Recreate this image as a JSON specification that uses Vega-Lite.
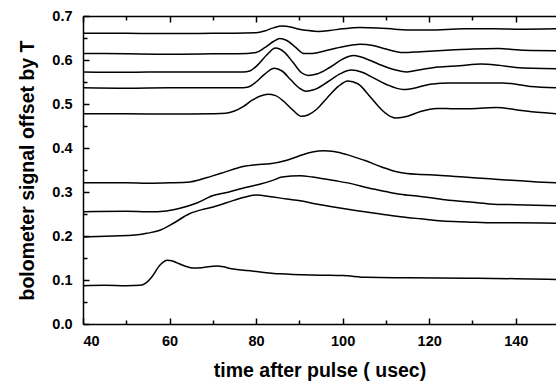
{
  "$schema": "https://vega.github.io/schema/vega-lite/v6.json",
  "width": 473,
  "height": 308,
  "autosize": {"type": "none"},
  "padding": {"left": 83, "top": 16, "right": 0, "bottom": 59},
  "view": {"stroke": null},
  "data": {"values": [
    {"s":"A","t":40,"v":0.661},{"s":"A","t":50,"v":0.661},{"s":"A","t":60,"v":0.660},{"s":"A","t":70,"v":0.661},{"s":"A","t":75,"v":0.661},{"s":"A","t":80,"v":0.662},{"s":"A","t":82,"v":0.666},{"s":"A","t":84,"v":0.673},{"s":"A","t":86,"v":0.677},{"s":"A","t":88,"v":0.675},{"s":"A","t":90,"v":0.670},{"s":"A","t":92,"v":0.667},{"s":"A","t":94.5,"v":0.665},{"s":"A","t":97,"v":0.667},{"s":"A","t":100,"v":0.671},{"s":"A","t":104,"v":0.674},{"s":"A","t":108,"v":0.673},{"s":"A","t":112,"v":0.670},{"s":"A","t":116,"v":0.668},{"s":"A","t":120,"v":0.668},{"s":"A","t":128,"v":0.671},{"s":"A","t":135,"v":0.671},{"s":"A","t":140,"v":0.670},{"s":"A","t":149.3,"v":0.671},
    {"s":"B","t":40,"v":0.615},{"s":"B","t":50,"v":0.614},{"s":"B","t":60,"v":0.613},{"s":"B","t":70,"v":0.614},{"s":"B","t":78,"v":0.615},{"s":"B","t":80,"v":0.617},{"s":"B","t":82,"v":0.628},{"s":"B","t":84,"v":0.642},{"s":"B","t":85.5,"v":0.649},{"s":"B","t":87,"v":0.645},{"s":"B","t":89,"v":0.630},{"s":"B","t":91,"v":0.615},{"s":"B","t":93,"v":0.615},{"s":"B","t":96,"v":0.621},{"s":"B","t":100,"v":0.630},{"s":"B","t":104,"v":0.636},{"s":"B","t":107,"v":0.633},{"s":"B","t":110,"v":0.625},{"s":"B","t":114,"v":0.617},{"s":"B","t":118,"v":0.619},{"s":"B","t":124,"v":0.622},{"s":"B","t":130,"v":0.625},{"s":"B","t":136,"v":0.626},{"s":"B","t":142,"v":0.622},{"s":"B","t":149.3,"v":0.621},
    {"s":"C","t":40,"v":0.573},{"s":"C","t":50,"v":0.572},{"s":"C","t":60,"v":0.573},{"s":"C","t":70,"v":0.573},{"s":"C","t":77,"v":0.573},{"s":"C","t":78.5,"v":0.575},{"s":"C","t":80.5,"v":0.590},{"s":"C","t":82.5,"v":0.612},{"s":"C","t":84.5,"v":0.627},{"s":"C","t":86.5,"v":0.618},{"s":"C","t":88.5,"v":0.595},{"s":"C","t":90.5,"v":0.571},{"s":"C","t":92,"v":0.565},{"s":"C","t":94,"v":0.568},{"s":"C","t":97,"v":0.583},{"s":"C","t":100,"v":0.602},{"s":"C","t":102.5,"v":0.610},{"s":"C","t":106.4,"v":0.599},{"s":"C","t":109,"v":0.588},{"s":"C","t":112,"v":0.578},{"s":"C","t":114.8,"v":0.573},{"s":"C","t":118,"v":0.578},{"s":"C","t":122,"v":0.584},{"s":"C","t":127,"v":0.587},{"s":"C","t":132,"v":0.591},{"s":"C","t":136,"v":0.588},{"s":"C","t":140,"v":0.583},{"s":"C","t":149.3,"v":0.580},
    {"s":"D","t":40,"v":0.537},{"s":"D","t":50,"v":0.536},{"s":"D","t":60,"v":0.537},{"s":"D","t":70,"v":0.537},{"s":"D","t":77,"v":0.537},{"s":"D","t":78,"v":0.538},{"s":"D","t":80,"v":0.550},{"s":"D","t":82,"v":0.568},{"s":"D","t":84.2,"v":0.581},{"s":"D","t":86,"v":0.575},{"s":"D","t":88,"v":0.555},{"s":"D","t":90,"v":0.536},{"s":"D","t":91.5,"v":0.529},{"s":"D","t":93.5,"v":0.533},{"s":"D","t":96.5,"v":0.550},{"s":"D","t":99.5,"v":0.569},{"s":"D","t":102,"v":0.577},{"s":"D","t":104.5,"v":0.572},{"s":"D","t":107,"v":0.560},{"s":"D","t":110,"v":0.545},{"s":"D","t":114,"v":0.533},{"s":"D","t":117,"v":0.537},{"s":"D","t":120.2,"v":0.545},{"s":"D","t":125,"v":0.548},{"s":"D","t":131,"v":0.548},{"s":"D","t":137,"v":0.548},{"s":"D","t":143.4,"v":0.540},{"s":"D","t":149.3,"v":0.537},
    {"s":"E","t":40,"v":0.478},{"s":"E","t":50,"v":0.478},{"s":"E","t":60,"v":0.477},{"s":"E","t":70,"v":0.478},{"s":"E","t":73,"v":0.479},{"s":"E","t":75,"v":0.484},{"s":"E","t":77,"v":0.494},{"s":"E","t":79,"v":0.508},{"s":"E","t":81,"v":0.518},{"s":"E","t":82.7,"v":0.522},{"s":"E","t":84.5,"v":0.519},{"s":"E","t":86.5,"v":0.505},{"s":"E","t":88.5,"v":0.486},{"s":"E","t":90.5,"v":0.472},{"s":"E","t":92,"v":0.475},{"s":"E","t":94,"v":0.488},{"s":"E","t":96.5,"v":0.515},{"s":"E","t":99,"v":0.540},{"s":"E","t":101.2,"v":0.552},{"s":"E","t":103.5,"v":0.546},{"s":"E","t":106.4,"v":0.516},{"s":"E","t":109,"v":0.487},{"s":"E","t":111,"v":0.472},{"s":"E","t":112.5,"v":0.468},{"s":"E","t":115,"v":0.472},{"s":"E","t":118,"v":0.483},{"s":"E","t":121.8,"v":0.490},{"s":"E","t":126,"v":0.489},{"s":"E","t":131,"v":0.490},{"s":"E","t":135.6,"v":0.492},{"s":"E","t":140,"v":0.487},{"s":"E","t":145,"v":0.481},{"s":"E","t":149.3,"v":0.478},
    {"s":"F","t":40,"v":0.321},{"s":"F","t":50,"v":0.321},{"s":"F","t":55,"v":0.320},{"s":"F","t":60,"v":0.321},{"s":"F","t":64.7,"v":0.323},{"s":"F","t":67,"v":0.328},{"s":"F","t":69.4,"v":0.335},{"s":"F","t":72.4,"v":0.344},{"s":"F","t":77,"v":0.358},{"s":"F","t":80,"v":0.362},{"s":"F","t":83.2,"v":0.364},{"s":"F","t":87.1,"v":0.372},{"s":"F","t":90.2,"v":0.383},{"s":"F","t":93,"v":0.391},{"s":"F","t":95.6,"v":0.394},{"s":"F","t":98,"v":0.392},{"s":"F","t":101,"v":0.385},{"s":"F","t":105,"v":0.372},{"s":"F","t":109,"v":0.357},{"s":"F","t":112,"v":0.347},{"s":"F","t":114.8,"v":0.342},{"s":"F","t":118,"v":0.340},{"s":"F","t":122,"v":0.338},{"s":"F","t":128,"v":0.334},{"s":"F","t":134,"v":0.330},{"s":"F","t":140,"v":0.326},{"s":"F","t":145,"v":0.323},{"s":"F","t":149.3,"v":0.321},
    {"s":"G","t":40,"v":0.255},{"s":"G","t":50,"v":0.256},{"s":"G","t":55,"v":0.255},{"s":"G","t":59.3,"v":0.257},{"s":"G","t":62.4,"v":0.263},{"s":"G","t":66.3,"v":0.275},{"s":"G","t":70.1,"v":0.292},{"s":"G","t":72.4,"v":0.297},{"s":"G","t":77.8,"v":0.311},{"s":"G","t":81,"v":0.318},{"s":"G","t":84,"v":0.327},{"s":"G","t":86,"v":0.334},{"s":"G","t":90.2,"v":0.337},{"s":"G","t":93,"v":0.334},{"s":"G","t":95.6,"v":0.330},{"s":"G","t":98,"v":0.326},{"s":"G","t":102,"v":0.319},{"s":"G","t":106,"v":0.309},{"s":"G","t":110,"v":0.301},{"s":"G","t":113.3,"v":0.295},{"s":"G","t":118,"v":0.290},{"s":"G","t":123,"v":0.283},{"s":"G","t":128.7,"v":0.278},{"s":"G","t":134,"v":0.273},{"s":"G","t":140,"v":0.271},{"s":"G","t":149.3,"v":0.269},
    {"s":"H","t":40,"v":0.198},{"s":"H","t":47,"v":0.200},{"s":"H","t":52,"v":0.202},{"s":"H","t":54.7,"v":0.206},{"s":"H","t":57.8,"v":0.213},{"s":"H","t":60.9,"v":0.229},{"s":"H","t":64.7,"v":0.251},{"s":"H","t":67.5,"v":0.260},{"s":"H","t":70.1,"v":0.266},{"s":"H","t":74.8,"v":0.281},{"s":"H","t":78,"v":0.290},{"s":"H","t":80.2,"v":0.293},{"s":"H","t":83,"v":0.290},{"s":"H","t":87.1,"v":0.284},{"s":"H","t":90.2,"v":0.280},{"s":"H","t":93.2,"v":0.274},{"s":"H","t":97.9,"v":0.266},{"s":"H","t":103,"v":0.258},{"s":"H","t":108,"v":0.251},{"s":"H","t":113.3,"v":0.244},{"s":"H","t":118,"v":0.239},{"s":"H","t":123,"v":0.234},{"s":"H","t":128.7,"v":0.232},{"s":"H","t":135,"v":0.230},{"s":"H","t":140,"v":0.230},{"s":"H","t":149.3,"v":0.229},
    {"s":"I","t":40,"v":0.087},{"s":"I","t":45,"v":0.088},{"s":"I","t":50,"v":0.087},{"s":"I","t":53.2,"v":0.088},{"s":"I","t":54.5,"v":0.093},{"s":"I","t":55.9,"v":0.107},{"s":"I","t":57.8,"v":0.134},{"s":"I","t":59.5,"v":0.145},{"s":"I","t":60.5,"v":0.144},{"s":"I","t":61.7,"v":0.139},{"s":"I","t":63.5,"v":0.132},{"s":"I","t":65.5,"v":0.127},{"s":"I","t":67.5,"v":0.128},{"s":"I","t":70.9,"v":0.132},{"s":"I","t":72.5,"v":0.130},{"s":"I","t":74,"v":0.126},{"s":"I","t":79.4,"v":0.120},{"s":"I","t":85.5,"v":0.114},{"s":"I","t":94.8,"v":0.111},{"s":"I","t":100,"v":0.110},{"s":"I","t":105.6,"v":0.106},{"s":"I","t":115,"v":0.105},{"s":"I","t":128.7,"v":0.104},{"s":"I","t":140,"v":0.103},{"s":"I","t":149.3,"v":0.101}
  ]},
  "layer": [
    {
      "mark": {"type": "line", "color": "black", "strokeWidth": 1.5, "interpolate": "monotone"},
      "encoding": {
        "x": {"field": "t", "type": "quantitative",
          "scale": {"domain": [40, 149.3], "nice": false, "zero": false},
          "axis": {"orient": "bottom", "title": "time after pulse ( usec)", "gridOpacity": 0,
            "labelFont": "Liberation Sans", "labelFontWeight": "bold", "labelFontSize": 14.5, "labelColor": "black",
            "titleFont": "Liberation Sans", "titleFontWeight": "bold", "titleFontSize": 19.5, "titleColor": "black",
            "domainColor": "black", "domainWidth": 1.5,
            "values": [40,60,80,100,120,140],
            "tickSize": -6, "tickColor": "black", "tickWidth": 1.5, "labelPadding": 16, "titlePadding": 14}},
        "y": {"field": "v", "type": "quantitative",
          "scale": {"domain": [0, 0.7], "nice": false},
          "axis": {"orient": "left", "title": "bolometer signal offset by T", "gridOpacity": 0,
            "labelFont": "Liberation Sans", "labelFontWeight": "bold", "labelFontSize": 14.5, "labelColor": "black",
            "titleFont": "Liberation Sans", "titleFontWeight": "bold", "titleFontSize": 19.5, "titleColor": "black",
            "domainColor": "black", "domainWidth": 1.5,
            "values": [0,0.1,0.2,0.3,0.4,0.5,0.6,0.7],
            "format": ".1f",
            "tickSize": -6, "tickColor": "black", "tickWidth": 1.5, "labelPadding": 17, "titlePadding": 14}},
        "detail": {"field": "s"}
      }
    },
    {
      "mark": {"type": "line", "strokeOpacity": 0},
      "encoding": {
        "x": {"field": "t", "type": "quantitative",
          "axis": {"orient": "bottom", "title": null, "labels": false, "domain": false, "gridOpacity": 0,
            "values": [50,70,90,110,130], "tickSize": -4, "tickColor": "black", "tickWidth": 1.5}},
        "y": {"field": "v", "type": "quantitative",
          "axis": {"orient": "left", "title": null, "labels": false, "domain": false, "gridOpacity": 0,
            "values": [0.05,0.15,0.25,0.35,0.45,0.55,0.65], "tickSize": -4, "tickColor": "black", "tickWidth": 1.5}},
        "detail": {"field": "s"}
      }
    },
    {
      "mark": {"type": "line", "strokeOpacity": 0},
      "encoding": {
        "x": {"field": "t", "type": "quantitative",
          "axis": {"orient": "top", "title": null, "labels": false, "gridOpacity": 0,
            "domainColor": "black", "domainWidth": 1.5,
            "values": [40,60,80,100,120,140], "tickSize": -6, "tickColor": "black", "tickWidth": 1.5}},
        "y": {"field": "v", "type": "quantitative", "axis": null},
        "detail": {"field": "s"}
      }
    },
    {
      "mark": {"type": "line", "strokeOpacity": 0},
      "encoding": {
        "x": {"field": "t", "type": "quantitative",
          "axis": {"orient": "top", "title": null, "labels": false, "domain": false, "gridOpacity": 0,
            "values": [50,70,90,110,130], "tickSize": -4, "tickColor": "black", "tickWidth": 1.5}},
        "y": {"field": "v", "type": "quantitative", "axis": null},
        "detail": {"field": "s"}
      }
    }
  ],
  "resolve": {"axis": {"x": "independent", "y": "independent"}}
}
